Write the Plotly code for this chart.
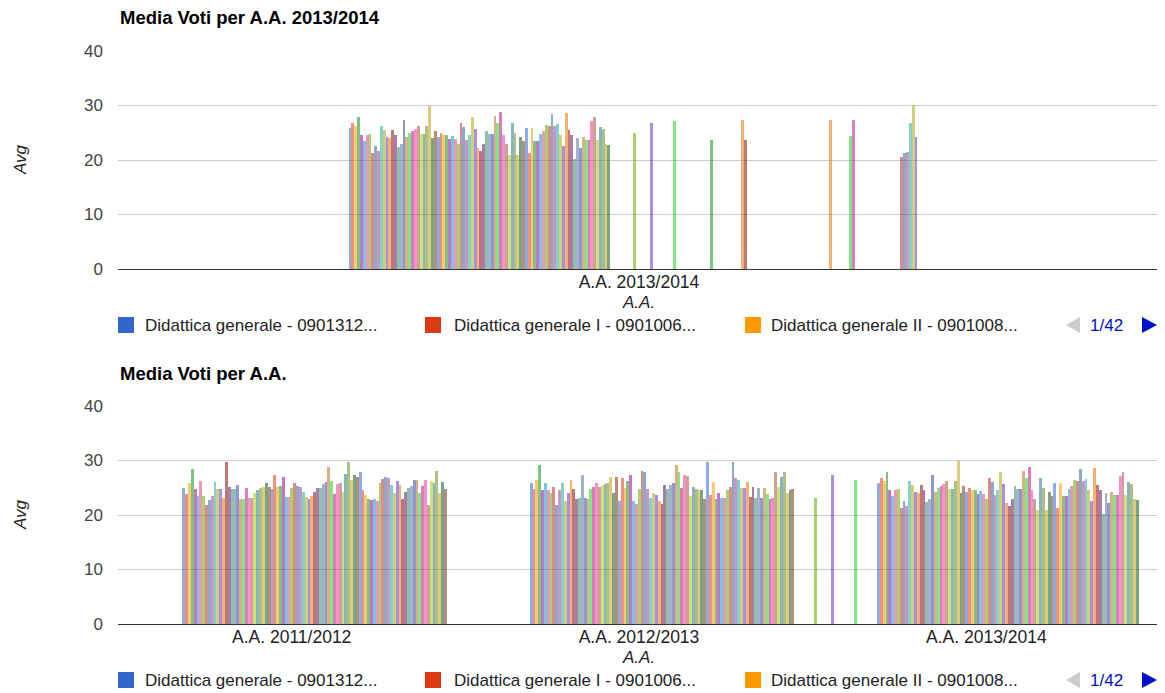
import plotly.graph_objects as go

# ---------------- data ----------------
legend_names = ["Didattica generale - 0901312...",
                "Didattica generale I - 0901006...",
                "Didattica generale II - 0901008..."]
years = ["A.A. 2011/2012", "A.A. 2012/2013", "A.A. 2013/2014"]
n_series = 200
page_label = "1/42"

avg_2013_2014_dense = [
    25.8, 26.8, 26.3, 27.8, 24.5, 23.5, 24.5, 24.7, 21.3, 22.6,
    21.6, 26.2, 25.5, 24.2, 24.0, 25.5, 24.5, 22.4, 23.0, 27.3,
    24.3, 25.0, 25.4, 25.7, 26.2, 24.7, 24.7, 26.3, 30.0, 24.0,
    25.3, 24.3, 25.0, 24.6, 24.5, 23.9, 24.4, 23.9, 23.0, 26.8,
    26.0, 23.7, 24.5, 27.8, 25.7, 22.2, 21.7, 23.0, 25.3, 24.8,
    24.8, 28.1, 26.8, 28.8, 24.6, 23.0, 21.0, 26.8, 25.0, 21.0,
    24.2, 23.4, 25.8, 21.3, 25.8, 23.5, 23.5, 24.8, 25.3, 26.4,
    26.3, 28.4, 26.3, 26.6, 24.5, 22.5, 28.6, 25.5, 24.5, 20.2,
    24.0, 22.2, 24.3, 23.7, 23.7, 27.1, 27.8, 23.7, 26.0, 25.7,
    23.0, 22.7]
avg_2013_2014_sparse = {100: 25.0, 106: 26.8, 114: 27.1, 127: 23.7, 138: 27.3,
                        139: 23.7, 169: 27.3, 176: 24.4, 177: 27.3, 194: 20.5,
                        195: 21.2, 196: 21.5, 197: 26.8, 198: 30.1, 199: 24.2}

avg_2011_2012_dense = [
    25.0, 23.8, 25.8, 28.4, 24.8, 23.5, 26.3, 23.5, 21.8, 22.7,
    23.5, 26.0, 24.7, 24.7, 23.2, 29.8, 25.2, 24.8, 24.8, 25.5,
    22.9, 22.9, 25.0, 23.2, 23.2, 24.0, 24.5, 24.9, 25.2,
    25.8, 25.2, 24.7, 27.3, 25.2, 25.4, 27.0, 23.3, 23.3, 25.0,
    25.8, 25.3, 25.1, 24.3, 23.3, 22.9, 23.5, 24.3, 24.9, 25.0,
    25.6, 26.1, 28.9, 26.3, 23.8, 25.6, 25.8, 24.2, 27.6, 29.8,
    26.4, 27.3, 27.0, 27.9, 24.6, 23.7, 22.9, 22.8, 22.9,
    22.5, 25.8, 26.6, 27.0, 26.7, 25.5, 24.0, 26.2, 25.5, 22.9,
    24.3, 24.9, 25.3, 26.4, 26.5, 24.0, 25.3, 26.5, 21.8, 26.3,
    25.8, 28.1, 24.0, 26.1, 24.7]

avg_2012_2013_dense = [
    25.8, 24.7, 26.5, 29.2, 24.5, 25.8, 24.6, 24.0, 25.2,
    21.8, 24.6, 25.8, 22.6, 24.0, 26.5, 24.7, 22.9, 23.2, 27.3,
    23.2, 22.9, 24.7, 25.2, 25.8, 25.2, 25.5, 25.6, 25.9, 27.0,
    24.0, 27.0, 22.6, 26.7, 24.9, 26.3, 27.3, 22.6, 22.1, 24.7,
    28.1, 27.9, 24.7, 23.2, 24.1, 23.7, 22.6, 22.1, 25.5, 24.7,
    25.5, 25.9, 29.2, 27.9, 24.9, 27.3, 27.1, 23.5, 25.2, 24.7,
    24.6, 24.5, 22.9, 29.8, 23.7, 26.1, 22.9, 24.0, 23.2, 23.1,
    24.6, 25.2, 29.8, 26.7, 26.4, 24.9, 24.9, 26.1, 23.3, 25.2,
    23.2, 24.9, 23.2, 24.9, 23.8, 22.9, 23.1, 27.8, 25.2,
    27.0, 27.8, 24.0, 24.6, 24.7]
avg_2012_2013_sparse = {100: 23.2, 106: 27.3, 114: 26.5}

palette = ["#3366cc", "#dc3912", "#ff9900", "#109618", "#990099", "#0099c6",
           "#dd4477", "#66aa00", "#b82e2e", "#316395", "#994499", "#22aa99",
           "#aaaa11", "#6633cc", "#e67300", "#8b0707", "#651067", "#329262",
           "#5574a6", "#3b3eac", "#b77322", "#16d620", "#b91383", "#f4359e",
           "#9c5935", "#a9c413", "#2a778d", "#668d1c", "#bea413", "#0c5922",
           "#743411"]


def full(dense, sparse):
    vals = [None] * n_series
    for i, v in enumerate(dense):
        vals[i] = v
    for i, v in sparse.items():
        vals[i] = v
    return vals


v1112 = full(avg_2011_2012_dense, {})
v1213 = full(avg_2012_2013_dense, avg_2012_2013_sparse)
v1314 = full(avg_2013_2014_dense, avg_2013_2014_sparse)

# ---------------- layout geometry (page pixels) ----------------
PAGE_OFF = 8                  # default body margin of the html page
W, H = 1165 - PAGE_OFF, 693 - PAGE_OFF
XL, XR = 118, 1160
TOP_Y0, TOP_Y40 = 269, 51
BOT_Y0, BOT_Y40 = 624, 406
SLOT_PX = 2.844
TOP_START_PX = -290.4   # left edge of first bar relative to category centre
BOT_START_PX = -109.3


def px(x):
    return (x - PAGE_OFF) / W


def py(y):
    return 1 - (y - PAGE_OFF) / H


def rgba(hexc, a):
    h = hexc.lstrip("#")
    return "rgba(%d,%d,%d,%.2f)" % (int(h[0:2], 16), int(h[2:4], 16), int(h[4:6], 16), a)


FONT = "Arial, Liberation Sans, sans-serif"
fig = go.Figure()

top_unit = XR - XL            # px per category (1 category)
bot_unit = (XR - XL) / 3.0    # px per category (3 categories)

for k in range(n_series):
    col = rgba(palette[k % len(palette)], 0.55)
    name = legend_names[k] if k < len(legend_names) else "Serie %d" % (k + 1)
    if v1314[k] is not None:
        fig.add_trace(go.Bar(
            x=[0], y=[v1314[k]], xaxis="x", yaxis="y",
            offset=(TOP_START_PX + k * SLOT_PX) / top_unit,
            width=SLOT_PX / top_unit,
            marker=dict(color=col, line=dict(width=0)),
            name=name, showlegend=False, hoverinfo="y+name"))
    ys = [v1112[k], v1213[k], v1314[k]]
    if any(v is not None for v in ys):
        fig.add_trace(go.Bar(
            x=[0, 1, 2], y=ys, xaxis="x2", yaxis="y2",
            offset=(BOT_START_PX + k * SLOT_PX) / bot_unit,
            width=SLOT_PX / bot_unit,
            marker=dict(color=col, line=dict(width=0)),
            name=name, showlegend=False, hoverinfo="y+name"))

axis_common = dict(showline=False, ticks="", fixedrange=True, automargin=False)
fig.update_layout(
    width=W, height=H,
    margin=dict(l=0, r=0, t=0, b=0, autoexpand=False),
    paper_bgcolor="white", plot_bgcolor="white",
    barmode="overlay", bargap=0,
    showlegend=False,
    font=dict(family=FONT, size=17, color="#444444"),
    xaxis=dict(domain=[px(XL), px(XR)], range=[-0.5, 0.5], anchor="y",
               tickvals=[0], ticktext=[years[2]], showgrid=False, zeroline=False,
               tickfont=dict(size=17.5, color="#222222"), **axis_common),
    yaxis=dict(domain=[py(TOP_Y0), py(TOP_Y40)], range=[0, 40], anchor="x",
               dtick=10, gridcolor="#cccccc", gridwidth=1, zeroline=True,
               zerolinecolor="#333333", zerolinewidth=1, ticklabelstandoff=14,
               tickfont=dict(size=17, color="#444444"), **axis_common),
    xaxis2=dict(domain=[px(XL), px(XR)], range=[-0.5, 2.5], anchor="y2",
                tickvals=[0, 1, 2], ticktext=years, showgrid=False, zeroline=False,
                tickfont=dict(size=17.5, color="#222222"), **axis_common),
    yaxis2=dict(domain=[py(BOT_Y0), py(BOT_Y40)], range=[0, 40], anchor="x2",
                dtick=10, gridcolor="#cccccc", gridwidth=1, zeroline=True,
                zerolinecolor="#333333", zerolinewidth=1, ticklabelstandoff=14,
                tickfont=dict(size=17, color="#444444"), **axis_common),
)

ann = []
shapes = []


def text(x, y, s, size=17, color="#222222", xanchor="left", bold=False,
         italic=False, angle=0):
    if bold:
        s = "<b>%s</b>" % s
    if italic:
        s = "<i>%s</i>" % s
    ann.append(dict(x=px(x), y=py(y), xref="paper", yref="paper", text=s,
                    showarrow=False, xanchor=xanchor, yanchor="middle",
                    textangle=angle, font=dict(family=FONT, size=size, color=color)))


for (title, ty, y_mid, xt_y, leg_y) in [
        ("Media Voti per A.A. 2013/2014", 17, (TOP_Y0 + TOP_Y40) / 2, 302, 325),
        ("Media Voti per A.A.", 373, (BOT_Y0 + BOT_Y40) / 2, 657, 680)]:
    text(XL, ty, title, size=18.5, color="#000000", bold=True)
    text(20, y_mid, "Avg", italic=True, xanchor="center", angle=-90)
    text((XL + XR) / 2, xt_y, "A.A.", italic=True, xanchor="center")
    # legend (first page)
    for i, (sx, tx) in enumerate([(118, 143), (425, 452), (745, 769)]):
        shapes.append(dict(type="rect", xref="paper", yref="paper",
                           x0=px(sx), x1=px(sx + 16), y0=py(leg_y + 8), y1=py(leg_y - 8),
                           fillcolor=palette[i], line=dict(width=0)))
        text(tx, leg_y, legend_names[i])
    # pager
    shapes.append(dict(type="path", xref="paper", yref="paper",
                       path="M %f %f L %f %f L %f %f Z" % (
                           px(1066), py(leg_y), px(1080), py(leg_y - 8), px(1080), py(leg_y + 8)),
                       fillcolor="#cccccc", line=dict(width=0)))
    text(1106, leg_y, page_label, color="#0011cc", xanchor="center")
    shapes.append(dict(type="path", xref="paper", yref="paper",
                       path="M %f %f L %f %f L %f %f Z" % (
                           px(1157), py(leg_y), px(1142), py(leg_y - 8), px(1142), py(leg_y + 8)),
                       fillcolor="#0011cc", line=dict(width=0)))

fig.update_layout(annotations=ann, shapes=shapes)
fig.write_html("out.html")
